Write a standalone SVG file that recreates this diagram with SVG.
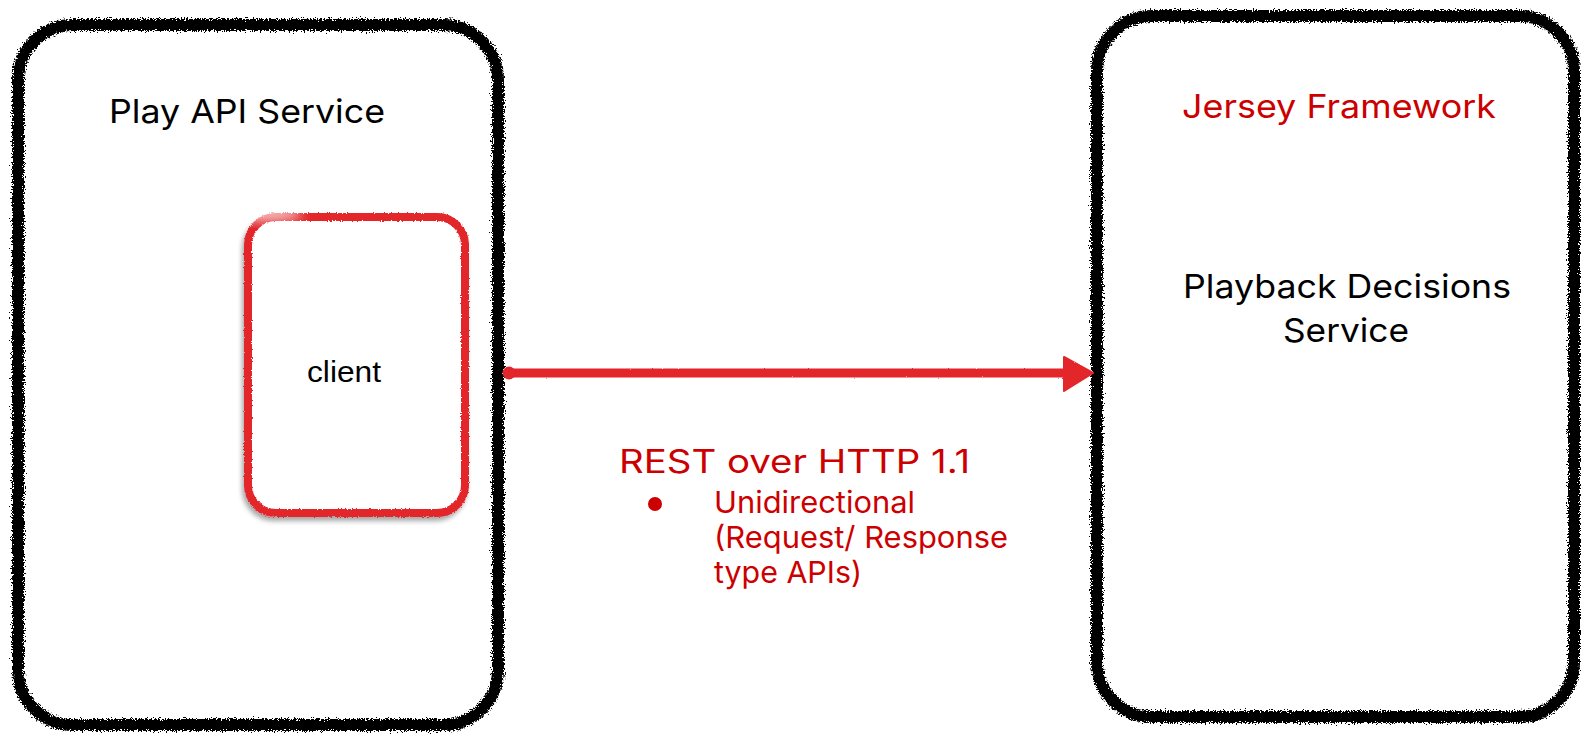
<svg xmlns="http://www.w3.org/2000/svg" width="1581" height="735" viewBox="0 0 1581 735">
  <defs>
    <!-- charcoal-like grainy edge for hand-drawn borders -->
    <filter id="rough" x="-5%" y="-5%" width="110%" height="110%">
      <feTurbulence type="fractalNoise" baseFrequency="0.75" numOctaves="3" seed="3" result="noise"/>
      <feDisplacementMap in="SourceGraphic" in2="noise" scale="8" xChannelSelector="R" yChannelSelector="G"/>
    </filter>
    <!-- marker stroke with a light shadow -->
    <filter id="marker" x="-10%" y="-10%" width="120%" height="120%">
      <feTurbulence type="fractalNoise" baseFrequency="0.8" numOctaves="2" seed="7" result="noise"/>
      <feDisplacementMap in="SourceGraphic" in2="noise" scale="3" xChannelSelector="R" yChannelSelector="G" result="d"/>
      <feGaussianBlur in="SourceAlpha" stdDeviation="2.5" result="b"/>
      <feOffset in="b" dx="-2" dy="4" result="o"/>
      <feComponentTransfer in="o" result="s"><feFuncA type="linear" slope="0.35"/></feComponentTransfer>
      <feMerge><feMergeNode in="s"/><feMergeNode in="d"/></feMerge>
    </filter>
    <filter id="soft" x="-2%" y="-50%" width="104%" height="200%">
      <feTurbulence type="fractalNoise" baseFrequency="0.5" numOctaves="1" seed="11" result="noise"/>
      <feDisplacementMap in="SourceGraphic" in2="noise" scale="2" xChannelSelector="R" yChannelSelector="G"/>
    </filter>
    <filter id="fade" x="-50%" y="-50%" width="200%" height="200%">
      <feGaussianBlur stdDeviation="6"/>
    </filter>
  </defs>
  <style>
    .frame { fill: none; stroke: #000; stroke-width: 12; }
    .inner { fill: #fff; stroke: #e3252b; stroke-width: 8; }
    .label { font-family: Inter, "Liberation Sans", sans-serif; fill: #000; }
    .red { fill: #cc0000; }
    .note { font-family: Inter, "Liberation Sans", sans-serif; fill: #cc0000; font-size: 30px; }
  </style>
  <rect width="1581" height="735" fill="#fff"/>

  <g id="play-api-service">
    <rect class="frame" x="18" y="25" width="480" height="700" rx="55" filter="url(#rough)"/>
    <text class="label" x="109" y="123" font-size="33" textLength="276" lengthAdjust="spacingAndGlyphs">Play API Service</text>
  </g>

  <g id="client">
    <rect class="inner" x="248" y="217" width="217" height="296" rx="28" filter="url(#marker)"/>
    <!-- worn-off ink at the upper-left corner -->
    <ellipse cx="268" cy="214" rx="34" ry="7" fill="#fff" opacity="0.75" filter="url(#fade)"/>
    <text x="307" y="382" font-family="'Liberation Sans', Arial, sans-serif" font-size="30" fill="#000" textLength="74" lengthAdjust="spacingAndGlyphs">client</text>
  </g>

  <g id="playback-decisions-service">
    <rect class="frame" x="1097" y="16" width="477" height="701" rx="55" filter="url(#rough)"/>
    <text class="label red" x="1182" y="118" font-size="33" textLength="314" lengthAdjust="spacingAndGlyphs">Jersey Framework</text>
    <text class="label" x="1183" y="298" font-size="33" textLength="328" lengthAdjust="spacingAndGlyphs">Playback Decisions</text>
    <text class="label" x="1283" y="342" font-size="33" textLength="126" lengthAdjust="spacingAndGlyphs">Service</text>
  </g>

  <g id="connectors">
    <g filter="url(#soft)">
      <line x1="509" y1="373" x2="1068" y2="373" stroke="#e3252b" stroke-width="9" stroke-linecap="round"/>
      <circle cx="509" cy="373" r="6.5" fill="#e3252b"/>
      <polygon points="1064,357 1093,373 1064,391" fill="#e3252b" stroke="#e3252b" stroke-width="2" stroke-linejoin="round"/>
    </g>
    <text class="label red" x="619" y="473" font-size="32" textLength="351" lengthAdjust="spacingAndGlyphs">REST over HTTP 1.1</text>
    <circle cx="655" cy="504" r="7" fill="#cc0000"/>
    <text class="note" x="714" y="513" textLength="201" lengthAdjust="spacingAndGlyphs">Unidirectional</text>
    <text class="note" x="714" y="548" textLength="294" lengthAdjust="spacingAndGlyphs">(Request/ Response</text>
    <text class="note" x="714" y="583" textLength="148" lengthAdjust="spacingAndGlyphs">type APIs)</text>
  </g>
</svg>
